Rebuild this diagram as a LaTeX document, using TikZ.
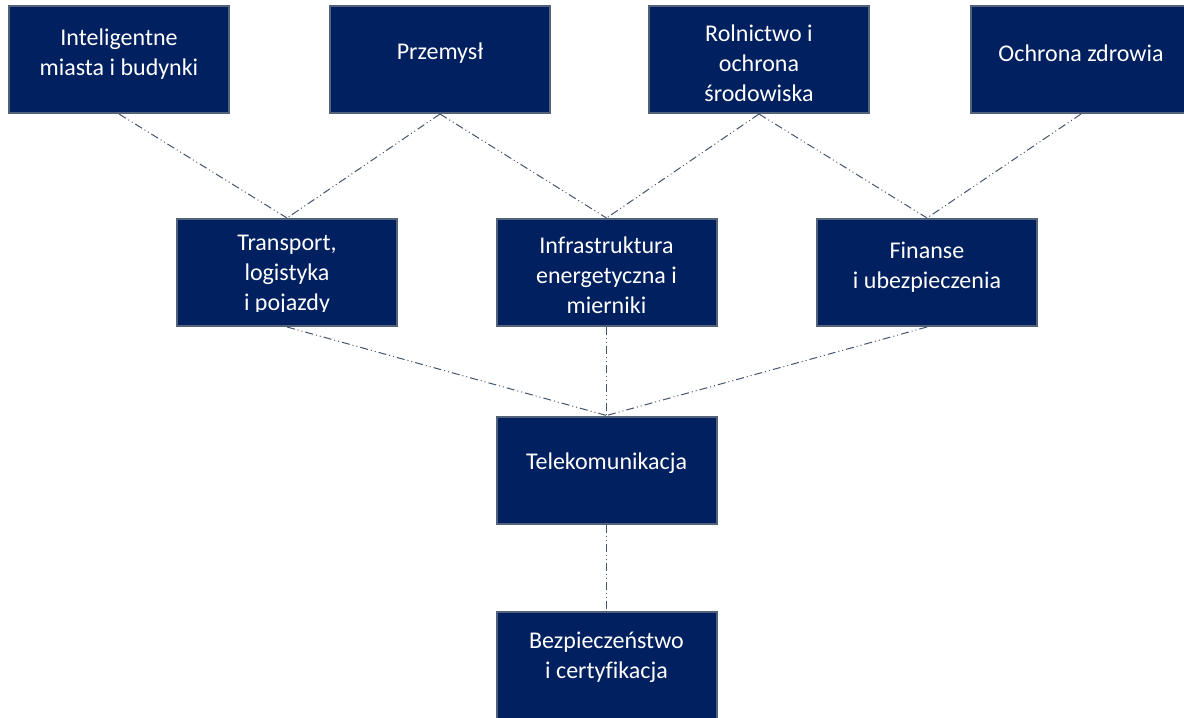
\documentclass[tikz,border=0pt]{standalone}
\usepackage{fontspec}
\setmainfont{Carlito}[Ligatures=NoCommon]
\definecolor{boxfill}{HTML}{002060}
\definecolor{boxline}{HTML}{52627A}
\definecolor{linkcol}{HTML}{44546A}
\begin{document}
\begin{tikzpicture}[x=0.75pt,y=-0.75pt,
  panel/.style={draw=boxline, line width=1.5pt, fill=boxfill, inner sep=0pt,
    minimum width=165pt, minimum height=80.25pt},
  caption/.style={text=white, font=\fontsize{18}{22.5}\selectfont, align=center, inner sep=0pt},
  link/.style={draw=linkcol, line width=0.75pt,
    dash pattern=on 6pt off 2.25pt on 0.75pt off 2.25pt on 0.75pt off 2.25pt}]
\useasboundingbox (0,0) rectangle (1184,717);

% top row: application domains
\node[panel] (b1) at (119,59.5) {};
\node[panel] (b2) at (440,59.5) {};
\node[panel] (b3) at (759,59.5) {};
\node[panel] (b4) at (1081,59.5) {};
% middle row
\node[panel] (r1) at (287,272.5) {};
\node[panel] (r2) at (606.5,272.5) {};
\node[panel] (r3) at (927,272.5) {};
% base layers
\node[panel] (tel) at (606.5,470) {};
\node[panel] (sec) at (606.5,665.5) {};

% captions
\node[caption] (t1) at (119,54.5) {Inteligentne\\miasta i budynki};
\node[caption] (t2) at (440,53) {Przemysł};
\node[caption] (t3) at (759,63) {Rolnictwo i\\ochrona\\środowiska};
\node[caption] (t4) at (1081,53) {Ochrona zdrowia};
\begin{scope}
  % the last line of this caption is cut off by the inner text margin
  \clip (177,219) rectangle (397,311);
  \node[caption] (tr1) at (287,275) {Transport,\\logistyka\\i pojazdy};
\end{scope}
\node[caption] (tr2) at (606.5,275) {Infrastruktura\\energetyczna i\\mierniki};
\node[caption] (tr3) at (927,267) {Finanse\\i ubezpieczenia};
\node[caption] (ttel) at (606.5,463) {Telekomunikacja};
\node[caption] (tsec) at (606.5,657) {Bezpieczeństwo\\i certyfikacja};

% connectors
\draw[link] (b1.south) -- (r1.north);
\draw[link] (b2.south) -- (r1.north);
\draw[link] (b2.south) -- (r2.north);
\draw[link] (b3.south) -- (r2.north);
\draw[link] (b3.south) -- (r3.north);
\draw[link] (b4.south) -- (r3.north);
\draw[link] (r1.south) -- (tel.north);
\draw[link] (r2.south) -- (tel.north);
\draw[link] (r3.south) -- (tel.north);
\draw[link] (tel.south) -- (sec.north);
\end{tikzpicture}
\end{document}
